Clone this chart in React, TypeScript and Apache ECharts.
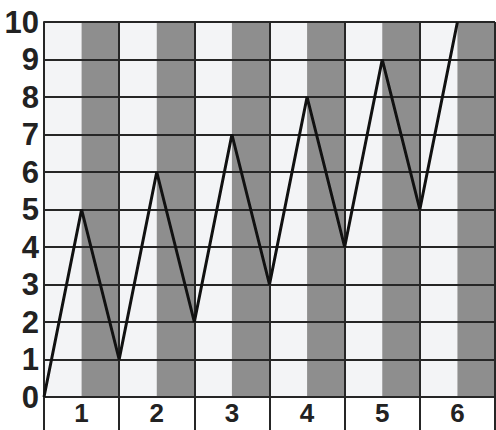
import React, { useEffect, useRef } from "react";
import * as echarts from "echarts";

const categories = ["1", "2", "3", "4", "5", "6"];
const xPositions = [0, 0.5, 1, 1.5, 2, 2.5, 3, 3.5, 4, 4.5, 5, 5.5];
const yValues = [0, 5, 1, 6, 2, 7, 3, 8, 4, 9, 5, 10];
const yTicks = [0, 1, 2, 3, 4, 5, 6, 7, 8, 9, 10];

export default function App() {
  const ref = useRef<HTMLDivElement>(null);
  useEffect(() => {
    if (!ref.current) return;
    const chart = echarts.init(ref.current, null, { renderer: "svg" });
    const lineColor = "#262626";
    const font = "'Liberation Sans', Arial, sans-serif";
    chart.setOption({
      animation: false,
      backgroundColor: "#ffffff",
      grid: { left: 44, right: 1, top: 22, bottom: 33 },
      xAxis: [
        {
          type: "value",
          min: 0,
          max: categories.length,
          interval: 1,
          position: "bottom",
          z: 2,
          axisLine: { show: false },
          axisLabel: { show: false },
          axisTick: { show: true, length: 34, lineStyle: { color: lineColor, width: 2 } },
          splitLine: { show: true, lineStyle: { color: lineColor, width: 2 } },
        },
        {
          type: "value",
          min: 0,
          max: categories.length,
          interval: 0.5,
          position: "bottom",
          z: 0,
          axisLine: { show: false },
          axisLabel: { show: false },
          axisTick: { show: false },
          splitLine: { show: false },
          splitArea: { show: true, areaStyle: { color: ["#f3f4f6", "#8e8e8e"] } },
        },
        {
          type: "category",
          data: categories,
          boundaryGap: true,
          position: "bottom",
          z: 2,
          axisLine: { show: false },
          axisTick: { show: false },
          splitLine: { show: false },
          axisLabel: {
            fontSize: 26,
            color: "#222",
            fontFamily: font,
            fontWeight: "bold",
            margin: 3,
          },
        },
      ],
      yAxis: {
        type: "value",
        min: 0,
        max: 10,
        interval: 1,
        z: 2,
        axisLine: { show: true, lineStyle: { color: lineColor, width: 2 } },
        axisTick: { show: false },
        axisLabel: {
          fontSize: 31,
          color: "#222",
          fontFamily: font,
          fontWeight: "bold",
          margin: 5,
          formatter: (v: number) => (yTicks.includes(v) ? String(v) : ""),
        },
        splitLine: { show: true, lineStyle: { color: lineColor, width: 2 } },
      },
      series: [
        {
          type: "line",
          xAxisIndex: 0,
          data: xPositions.map((x, i) => [x, yValues[i]]),
          symbol: "none",
          z: 5,
          lineStyle: { color: "#111", width: 3 },
        },
      ],
    });
    return () => chart.dispose();
  }, []);
  return (
    <div
      ref={ref}
      style={{ position: "fixed", left: 0, top: 0, width: 496, height: 430 }}
    />
  );
}
